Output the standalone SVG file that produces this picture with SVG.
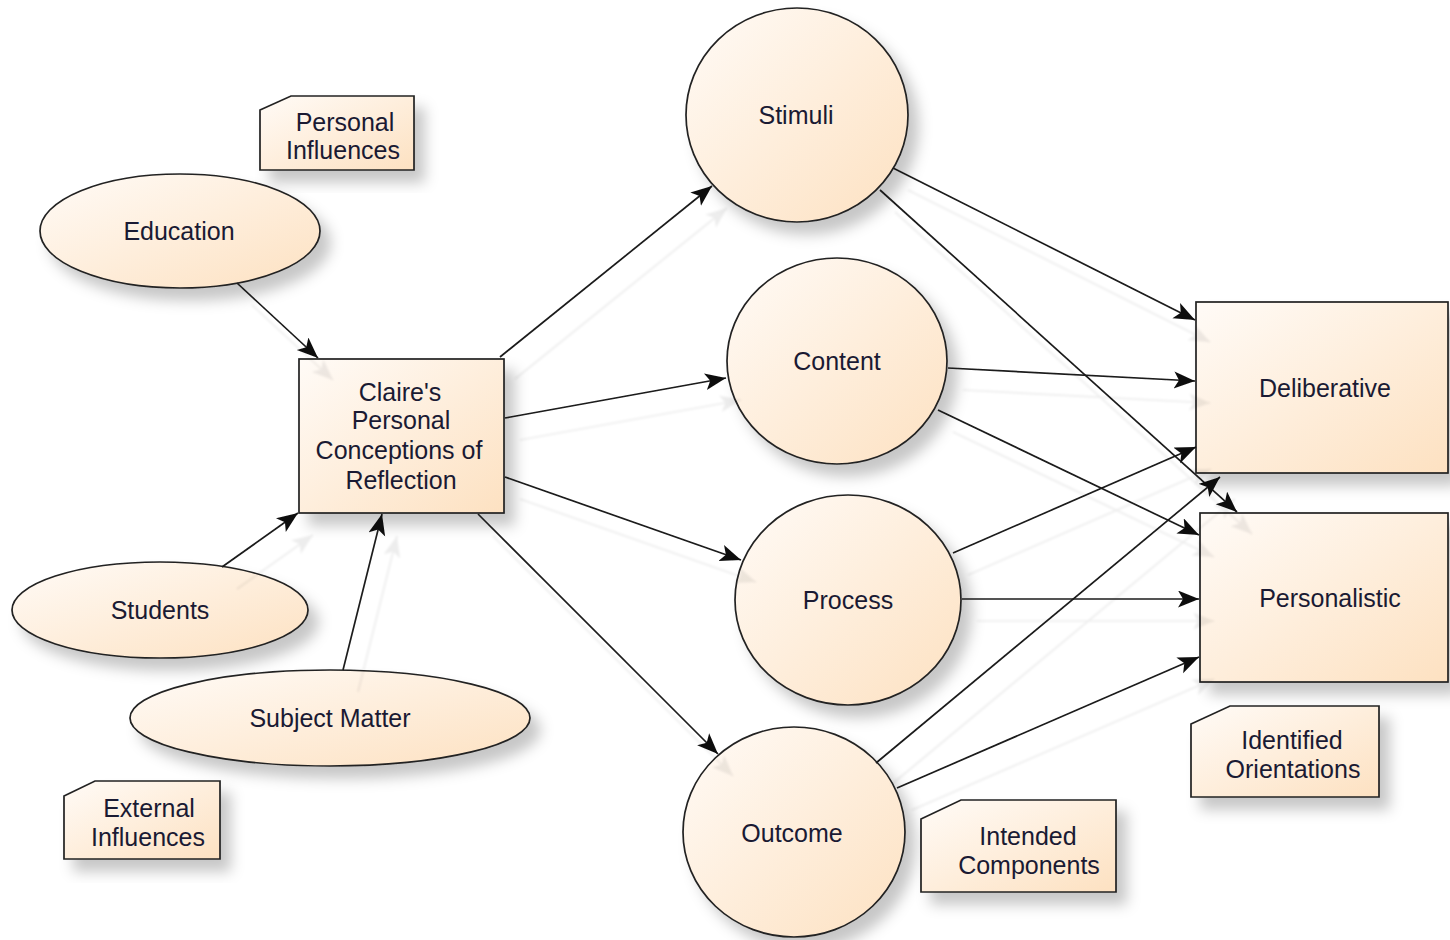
<svg xmlns="http://www.w3.org/2000/svg" width="1450" height="940" viewBox="0 0 1450 940">
<defs>
<linearGradient id="g" x1="0" y1="0" x2="1" y2="1">
<stop offset="0" stop-color="#fffbf7"/>
<stop offset="1" stop-color="#fde1c1"/>
</linearGradient>
<filter id="sh" x="-20%" y="-20%" width="150%" height="150%">
<feDropShadow dx="10" dy="12" stdDeviation="7" flood-color="#000" flood-opacity="0.22"/>
</filter>
<filter id="lsh" x="-20%" y="-20%" width="150%" height="150%">
<feDropShadow dx="15" dy="22" stdDeviation="1" flood-color="#000" flood-opacity="0.07"/>
</filter>
<marker id="ah" markerUnits="userSpaceOnUse" markerWidth="24" markerHeight="20" refX="21" refY="8.5" orient="auto">
<path d="M0,0 L21,8.5 L0,17 L5,8.5 z" fill="#111"/>
</marker>
</defs>
<style>
.n{fill:url(#g);stroke:#222;stroke-width:1.7;filter:url(#sh)}
.t{font-family:"Liberation Sans",Arial,sans-serif;font-size:25px;fill:#1a1a33;text-anchor:middle}
.c line{stroke:#1a1a1a;stroke-width:1.7;marker-end:url(#ah)}
</style>
<rect width="1450" height="940" fill="#fff"/>

<g id="personal-influences">
<path class="n" d="M260,110 L291,96 L414,96 L414,170 L260,170 Z"/>
<text class="t" x="345" y="131">Personal</text>
<text class="t" x="343" y="159">Influences</text>
</g>
<g id="education">
<ellipse class="n" cx="180" cy="231" rx="140" ry="57"/>
<text class="t" x="179" y="240">Education</text>
</g>
<g id="students">
<ellipse class="n" cx="160" cy="610" rx="148" ry="48"/>
<text class="t" x="160" y="619">Students</text>
</g>
<g id="subject-matter">
<ellipse class="n" cx="330" cy="718" rx="200" ry="48"/>
<text class="t" x="330" y="727">Subject Matter</text>
</g>
<g id="external-influences">
<path class="n" d="M64,796 L95,781 L220,781 L220,859 L64,859 Z"/>
<text class="t" x="149" y="817">External</text>
<text class="t" x="148" y="846">Influences</text>
</g>
<g id="claire">
<rect class="n" x="299" y="359" width="205" height="154"/>
<text class="t" x="400" y="401">Claire's</text>
<text class="t" x="401" y="429">Personal</text>
<text class="t" x="399" y="459">Conceptions of</text>
<text class="t" x="401" y="489">Reflection</text>
</g>
<g id="stimuli">
<ellipse class="n" cx="797" cy="115" rx="111" ry="107"/>
<text class="t" x="796" y="124">Stimuli</text>
</g>
<g id="content">
<ellipse class="n" cx="837" cy="361" rx="110" ry="103"/>
<text class="t" x="837" y="370">Content</text>
</g>
<g id="process">
<ellipse class="n" cx="848" cy="600" rx="113" ry="105"/>
<text class="t" x="848" y="609">Process</text>
</g>
<g id="outcome">
<ellipse class="n" cx="794" cy="832" rx="111" ry="105"/>
<text class="t" x="792" y="842">Outcome</text>
</g>
<g id="intended-components">
<path class="n" d="M921,819 L961,800 L1116,800 L1116,892 L921,892 Z"/>
<text class="t" x="1028" y="845">Intended</text>
<text class="t" x="1029" y="874">Components</text>
</g>
<g id="deliberative">
<rect class="n" x="1196" y="302" width="252" height="171"/>
<text class="t" x="1325" y="397">Deliberative</text>
</g>
<g id="personalistic">
<rect class="n" x="1200" y="513" width="248" height="169"/>
<text class="t" x="1330" y="607">Personalistic</text>
</g>
<g id="identified-orientations">
<path class="n" d="M1191,724 L1230,706 L1379,706 L1379,797 L1191,797 Z"/>
<text class="t" x="1292" y="749">Identified</text>
<text class="t" x="1293" y="778">Orientations</text>
</g>

<g id="connectors" class="c" filter="url(#lsh)">
<line x1="237" y1="283" x2="318" y2="358"/>
<line x1="222" y1="567" x2="298" y2="513"/>
<line x1="343" y1="670" x2="382" y2="514"/>
<line x1="500" y1="357" x2="712" y2="186"/>
<line x1="505" y1="418" x2="726" y2="378"/>
<line x1="505" y1="477" x2="741" y2="560"/>
<line x1="478" y1="514" x2="718" y2="754"/>
<line x1="893" y1="168" x2="1195" y2="320"/>
<line x1="880" y1="190" x2="1237" y2="512"/>
<line x1="948" y1="368" x2="1195" y2="381"/>
<line x1="938" y1="410" x2="1199" y2="535"/>
<line x1="953" y1="553" x2="1196" y2="447"/>
<line x1="962" y1="599" x2="1199" y2="599"/>
<line x1="876" y1="763" x2="1220" y2="477"/>
<line x1="897" y1="788" x2="1199" y2="657"/>
</g>
</svg>
